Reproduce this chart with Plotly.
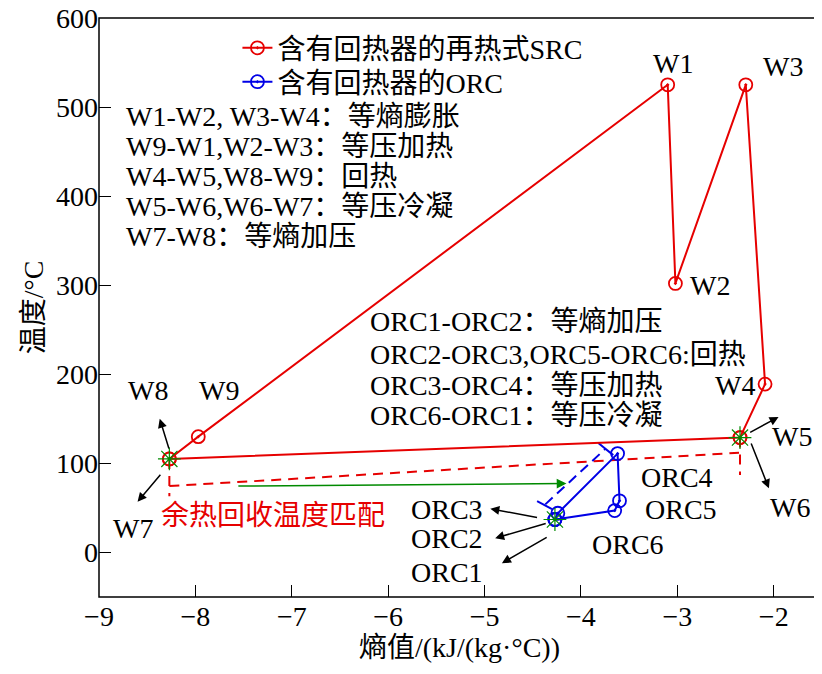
import plotly.graph_objects as go

# ---------------- data ----------------
red_labels = ["W8", "W9", "W1", "W2", "W3", "W4", "W5", "W6", "W7"]
red_s = [-8.27, -7.97, -3.10, -3.02, -2.29, -2.09, -2.35, -2.35, -8.27]
red_T = [105, 130, 525, 302, 525, 189, 129, 129, 105]

orc_labels = ["ORC1", "ORC2", "ORC3", "ORC4", "ORC5", "ORC6", "ORC1"]
orc_s = [-4.27, -4.27, -4.24, -3.62, -3.60, -3.65, -4.27]
orc_T = [37, 37, 44, 111, 58, 47, 37]

star_s = [-8.27, -2.35, -4.27]
star_T = [105, 129, 37]

x_ticks = [-9, -8, -7, -6, -5, -4, -3, -2]
x_ticktext = ["−9", "−8", "−7", "−6", "−5", "−4", "−3", "−2"]
y_ticks = [0, 100, 200, 300, 400, 500, 600]

legend_names = ["含有回热器的再热式SRC", "含有回热器的ORC"]

# point labels: text, s, T
point_labels = [
    ("W1", -3.05, 549), ("W2", -2.66, 300), ("W3", -1.90, 546),
    ("W4", -2.40, 188), ("W5", -1.81, 130), ("W6", -1.83, 50),
    ("W7", -8.65, 27), ("W8", -8.49, 182), ("W9", -7.75, 182),
    ("ORC1", -5.39, -22), ("ORC2", -5.39, 16), ("ORC3", -5.39, 48),
    ("ORC4", -3.00, 84), ("ORC5", -2.96, 48), ("ORC6", -3.51, 9),
]

# pointer arrows: head s, head T, tail s, tail T
pointer_arrows = [
    (-8.37, 150, -8.27, 115),   # W8
    (-8.60, 57, -8.35, 89),     # W7
    (-1.95, 152, -2.26, 134),   # W5
    (-2.05, 72, -2.24, 124),    # W6
    (-4.94, 49, -4.44, 39),     # ORC3
    (-4.89, 16, -4.35, 33),     # ORC2
    (-4.82, -12, -4.34, 18),    # ORC1
]

block1 = ["W1-W2, W3-W4：等熵膨胀", "W9-W1,W2-W3：等压加热", "W4-W5,W8-W9：回热",
          "W5-W6,W6-W7：等压冷凝", "W7-W8：等熵加压"]
block1_T = [489, 456, 422, 388, 355]
block1_s = -8.74

block2 = ["ORC1-ORC2：等熵加压", "ORC2-ORC3,ORC5-ORC6:回热", "ORC3-ORC4：等压加热",
          "ORC6-ORC1：等压冷凝"]
block2_T = [259, 222, 188, 154]
block2_s = -6.21

# temperature-matching guide (dashed red), green arrow, blue dimension line
match_s = [-8.27, -8.27, None, -8.27, -2.36, None, -2.35, -2.35]
match_T = [105, 63, None, 74.5, 112, None, 129, 87]
green_arrow = (-4.15, 77.5, -7.57, 74.5)
dim_dash = ([-4.37, -3.75], [54, 116])
dim_ticks = ([-4.455, -4.30, None, -3.82, -3.665], [57.6, 48.7, None, 122.8, 109.3])

RED = "#e60000"
BLUE = "#0000e6"
GREEN = "#008a00"
FONT = "Liberation Serif, Noto Sans CJK SC"
TXT = 28

fig = go.Figure()

# guide lines
fig.add_trace(go.Scatter(x=match_s, y=match_T, mode="lines", showlegend=False,
                         line=dict(color=RED, width=2, dash="10px,7px"), hoverinfo="skip"))
fig.add_trace(go.Scatter(x=dim_dash[0], y=dim_dash[1], mode="lines", showlegend=False,
                         line=dict(color=BLUE, width=2, dash="10px,6px"), hoverinfo="skip"))
fig.add_trace(go.Scatter(x=dim_ticks[0], y=dim_ticks[1], mode="lines", showlegend=False,
                         line=dict(color=BLUE, width=2), hoverinfo="skip"))

# main cycles
fig.add_trace(go.Scatter(x=red_s, y=red_T, mode="lines+markers", name=legend_names[0],
                         text=red_labels, legend="legend",
                         line=dict(color=RED, width=2),
                         marker=dict(symbol="circle-open-dot", size=13, color=RED,
                                     line=dict(width=1.8, color=RED))))
fig.add_trace(go.Scatter(x=orc_s, y=orc_T, mode="lines+markers", name=legend_names[1],
                         text=orc_labels, legend="legend2",
                         line=dict(color=BLUE, width=2),
                         marker=dict(symbol="circle-open-dot", size=13, color=BLUE,
                                     line=dict(width=1.8, color=BLUE))))
fig.add_trace(go.Scatter(x=star_s, y=star_T, mode="markers", showlegend=False,
                         marker=dict(symbol="asterisk-open", size=19, color=GREEN,
                                     line=dict(width=1.2, color=GREEN)), hoverinfo="skip"))

ann = []
for t, s, T in point_labels:
    ann.append(dict(x=s, y=T, text=t, showarrow=False, xref="x", yref="y",
                    font=dict(size=TXT, family=FONT, color="black")))
for hs, hT, ts, tT in pointer_arrows:
    ann.append(dict(x=hs, y=hT, ax=ts, ay=tT, xref="x", yref="y", axref="x", ayref="y",
                    text="", showarrow=True, arrowhead=2, arrowsize=1.2, arrowwidth=1.5,
                    arrowcolor="black"))
hs, hT, ts, tT = green_arrow
ann.append(dict(x=hs, y=hT, ax=ts, ay=tT, xref="x", yref="y", axref="x", ayref="y",
                text="", showarrow=True, arrowhead=2, arrowsize=1.3, arrowwidth=1.5,
                arrowcolor=GREEN))
for t, T in zip(block1, block1_T):
    ann.append(dict(x=block1_s, y=T, text=t, showarrow=False, xanchor="left",
                    font=dict(size=TXT, family=FONT, color="black")))
for t, T in zip(block2, block2_T):
    ann.append(dict(x=block2_s, y=T, text=t, showarrow=False, xanchor="left",
                    font=dict(size=TXT, family=FONT, color="black")))
ann.append(dict(x=-8.38, y=42, text="余热回收温度匹配", showarrow=False, xanchor="left",
                font=dict(size=28, family=FONT, color=RED)))

leg_common = dict(xanchor="left", yanchor="middle", bgcolor="rgba(0,0,0,0)",
                  font=dict(size=TXT, family=FONT))
fig.update_layout(
    width=814, height=666,
    margin=dict(l=91, r=2, t=10, b=77),
    paper_bgcolor="white", plot_bgcolor="white",
    font=dict(family=FONT, size=28, color="black"),
    annotations=ann,
    legend=dict(x=0.192, y=0.948, **leg_common),
    legend2=dict(x=0.192, y=0.8895, **leg_common),
    shapes=[dict(type="rect", xref="paper", yref="paper", x0=0, x1=1, y0=0, y1=1,
                 line=dict(color="black", width=1.5), layer="above")],
)
fig.update_xaxes(range=[-9, -1.52], tickvals=x_ticks, ticktext=x_ticktext, automargin=False,
                 ticks="inside", ticklen=12, tickcolor="black", showline=False,
                 showgrid=False, zeroline=False, ticklabeloverflow="allow",
                 title=dict(text="熵值/(kJ/(kg·°C))", font=dict(size=28), standoff=4),
                 tickfont=dict(size=28))
fig.update_yaxes(range=[-50, 600], tickvals=y_ticks, automargin=False,
                 ticks="inside", ticklen=12, tickcolor="black", showline=False,
                 showgrid=False, zeroline=False, ticklabeloverflow="allow",
                 title=dict(text="温度/°C", font=dict(size=28), standoff=4),
                 tickfont=dict(size=28))

fig.write_html("out.html")
